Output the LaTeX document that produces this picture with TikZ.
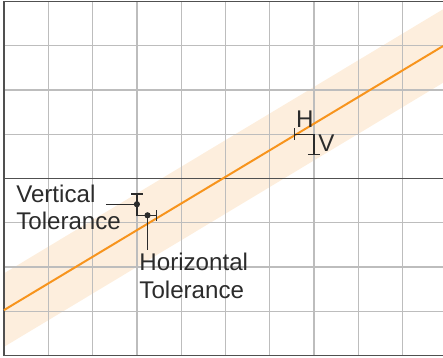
\documentclass[tikz,border=0pt]{standalone}
\usepackage{fontspec}
\setmainfont{Liberation Sans}
\definecolor{tolorange}{HTML}{F7941D}
\definecolor{tolband}{HTML}{FDEEDD}
\definecolor{gridgray}{HTML}{BDBDBD}
\definecolor{framegray}{HTML}{505050}
\definecolor{inkgray}{HTML}{2B2B2B}
\tikzset{
  tolbar/.style={line width=0.3mm, color=inkgray},
  tollabel/.style={align=left, inner sep=0pt, text=inkgray,
    font=\fontsize{15.5}{17.5}\selectfont},
}
\begin{document}
\begin{tikzpicture}
    \useasboundingbox (-0.09,-0.05) rectangle (9.91,8.03);
    % tolerance band and grid
    \fill[tolband] (0,0.2) -- (9.91,6.16) -- (9.91,7.82) -- (0,1.86) -- cycle;
    \draw[gridgray, line width=0.3mm] (0,0) grid (9.91,8);
    \draw[framegray, line width=0.3mm] (9.91,8) -- (0,8) -- (0,0) -- (9.91,0);
    \draw[framegray, line width=0.3mm] (0,4) -- (9.91,4);
    \draw[tolorange, line width=0.45mm] (0,1.03) -- (9.91,6.99);
    % lower markers
    \coordinate (vdot) at (3,3.42);
    \coordinate (hdot) at (3.24,3.17);
    \coordinate (vtip) at (3,3.65);
    \coordinate (htip) at (3.45,3.17);
    \draw[tolbar] (2.30,3.42) -- (vdot) -- (vtip);
    \draw[tolbar] ([xshift=-0.13cm]vtip) -- ([xshift=0.13cm]vtip);
    \draw[tolbar] (vdot) |- (htip);
    \draw[tolbar] ([yshift=-0.12cm]htip) -- ([yshift=0.12cm]htip);
    \draw[tolbar] (hdot) -- (3.24,2.38);
    \fill[inkgray] (vdot) circle (0.07);
    \fill[inkgray] (hdot) circle (0.07);
    \node[tollabel, anchor=base west] (vlabel) at (0.27,2.84) {Vertical\\Tolerance};
    \node[tollabel, anchor=base west] (hlabel) at (3.05,1.30) {Horizontal\\Tolerance};
    % upper markers
    \coordinate (corner) at (7,5);
    \coordinate (hend) at (6.56,5);
    \coordinate (vend) at (7,4.55);
    \draw[tolbar] (hend) -- (corner) -- (vend);
    \draw[tolbar] ([yshift=-0.12cm]hend) -- ([yshift=0.13cm]hend);
    \draw[tolbar] ([xshift=-0.14cm]vend) -- ([xshift=0.14cm]vend);
    \node[tollabel, anchor=base] (hmark) at (6.79,5.16) {H};
    \node[tollabel, anchor=base west] (vmark) at (7.09,4.62) {V};
\end{tikzpicture}
\end{document}
